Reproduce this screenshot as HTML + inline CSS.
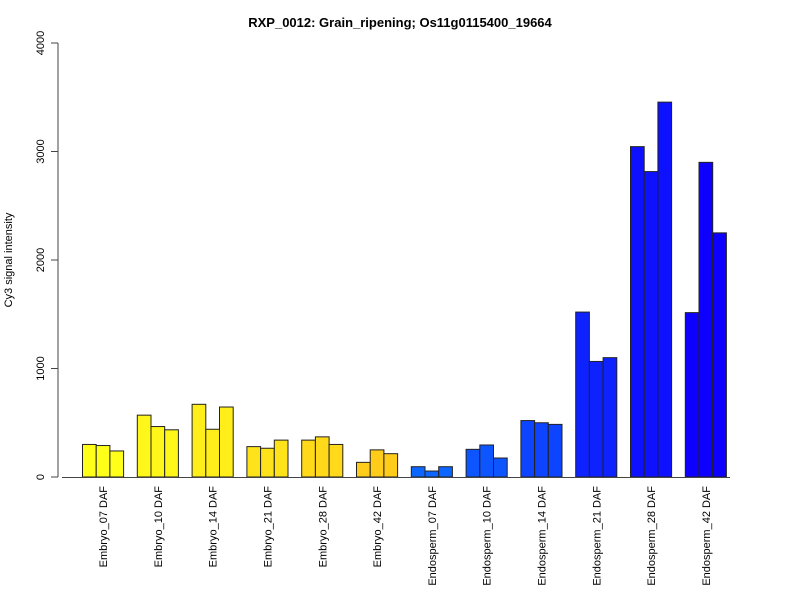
<!DOCTYPE html>
<html><head><meta charset="utf-8"><style>
body{margin:0;background:#fff}
svg text{font-family:"Liberation Sans",Arial,sans-serif;fill:#000}
</style></head><body>
<svg id="chart" width="800" height="600" xmlns="http://www.w3.org/2000/svg">
<text x="400" y="27" text-anchor="middle" font-size="13" font-weight="bold">RXP_0012: Grain_ripening; Os11g0115400_19664</text>
<text transform="translate(12,260) rotate(-90)" text-anchor="middle" font-size="11">Cy3 signal intensity</text>
<g id="yaxis"></g>
<g id="bars"></g>
<line x1="62" y1="477.5" x2="730" y2="477.5" stroke="#444" stroke-width="1"/>
<g id="xlabels"></g>
</svg>
<script>
const categories=["Embryo_07 DAF","Embryo_10 DAF","Embryo_14 DAF","Embryo_21 DAF","Embryo_28 DAF","Embryo_42 DAF","Endosperm_07 DAF","Endosperm_10 DAF","Endosperm_14 DAF","Endosperm_21 DAF","Endosperm_28 DAF","Endosperm_42 DAF"];
const rep1=[300,570,670,280,340,135,95,255,520,1520,3045,1515];
const rep2=[290,465,440,265,370,250,55,295,500,1065,2815,2900];
const rep3=[240,435,645,340,300,215,95,175,485,1100,3455,2250];
const colors=["#FFFF1A","#FFF61A","#FFEE1A","#FFE31A","#FFD91A","#FFCC1A","#0D66FF","#0D55FF","#0D44FF","#0D22FF","#0D11FF","#0D00FF"];
const yTicks=[0,1000,2000,3000,4000];
const NS="http://www.w3.org/2000/svg";
const y=v=>477-v*434/4000;
const bw=13.7, x0=82.5, gs=bw*4;
const xb=(g,r)=>x0+g*gs+r*bw;
const yax=document.getElementById('yaxis');
let l=document.createElementNS(NS,'line');


l.setAttribute('x1',58);l.setAttribute('x2',58);l.setAttribute('y1',y(0));l.setAttribute('y2',y(4000));l.setAttribute('stroke','#444');
yax.appendChild(l);
yTicks.forEach(t=>{
 const tk=document.createElementNS(NS,'line');
 
 
 tk.setAttribute('x1',51);tk.setAttribute('x2',58);tk.setAttribute('y1',y(t));tk.setAttribute('y2',y(t));tk.setAttribute('stroke','#444');
 yax.appendChild(tk);
 const tx=document.createElementNS(NS,'text');
 
 
 tx.setAttribute('transform',`translate(44,${y(t)}) rotate(-90)`);
 tx.setAttribute('text-anchor','middle');tx.setAttribute('font-size','11');
 tx.textContent=t;yax.appendChild(tx);
});
const bars=document.getElementById('bars'),xl=document.getElementById('xlabels');
categories.forEach((c,g)=>{
 [rep1,rep2,rep3].forEach((s,r)=>{
  const b=document.createElementNS(NS,'rect');
  
  
  b.setAttribute('x',xb(g,r));b.setAttribute('y',y(s[g]));b.setAttribute('width',bw);b.setAttribute('height',y(0)-y(s[g]));
  b.setAttribute('fill',colors[g]);b.setAttribute('stroke','#222');b.setAttribute('stroke-width','1');
  bars.appendChild(b);
 });
 const cx=xb(g,1.5);
 const t=document.createElementNS(NS,'text');
 
 
 t.setAttribute('transform',`translate(${cx+4},486) rotate(-90)`);
 t.setAttribute('text-anchor','end');t.setAttribute('font-size','11');
 t.textContent=c;xl.appendChild(t);
});
</script>
</body></html>
